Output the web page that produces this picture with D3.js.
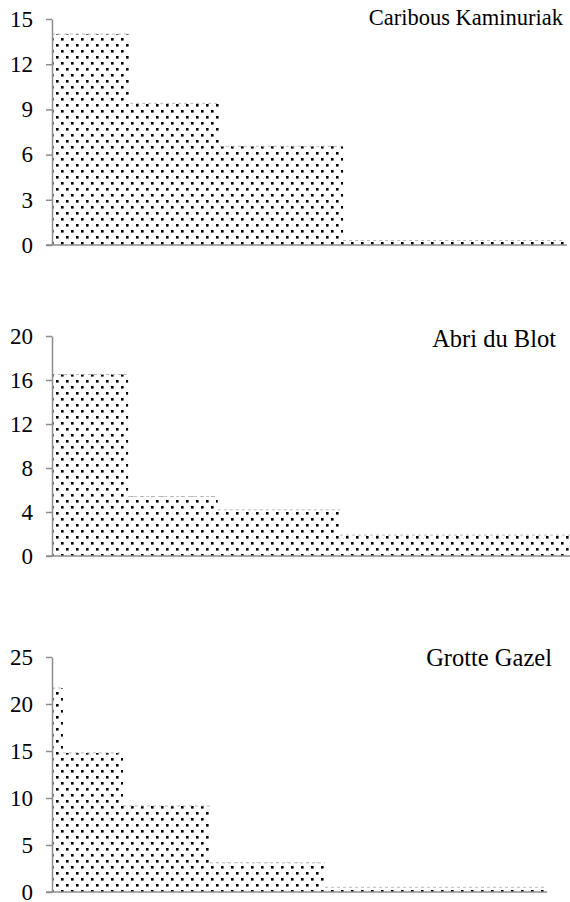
<!DOCTYPE html>
<html>
<head>
<meta charset="utf-8">
<script src="https://cdn.jsdelivr.net/npm/d3@7"></script>
<style>
  body { margin: 0; background: #fff; }
  svg { display: block; }
</style>
</head>
<body>
<svg id="chart" width="570" height="902"></svg>
<script>
// bin edges (x units, 0-100) and step heights
const titles = ["Caribous Kaminuriak", "Abri du Blot", "Grotte Gazel"];
const caribouEdges = [0, 15.1, 32.4, 56.2, 99.0];
const caribouValues = [14.0, 9.4, 6.55, 0.3];
const blotEdges = [0, 14.7, 32.0, 55.6, 100];
const blotValues = [16.5, 5.4, 4.2, 1.9];
const gazelEdges = [0, 2.1, 13.7, 30.5, 52.7, 95.2];
const gazelValues = [21.7, 14.8, 9.15, 3.1, 0.5];
const caribouTicks = [0, 3, 6, 9, 12, 15];
const blotTicks = [0, 4, 8, 12, 16, 20];
const gazelTicks = [0, 5, 10, 15, 20, 25];

const panels = [
  { title: titles[0], edges: caribouEdges, values: caribouValues, ticks: caribouTicks,
    top: 19, bottom: 245, titleX: 563, titleY: 25, titleSize: 22.5 },
  { title: titles[1], edges: blotEdges, values: blotValues, ticks: blotTicks,
    top: 336, bottom: 556, titleX: 556, titleY: 347, titleSize: 24.5 },
  { title: titles[2], edges: gazelEdges, values: gazelValues, ticks: gazelTicks,
    top: 657, bottom: 892, titleX: 552, titleY: 666, titleSize: 24.5 }
];

const svg = d3.select("#chart");
const axisColor = "#8c8c8c";
const font = "'Liberation Serif', 'Times New Roman', serif";

const defs = svg.append("defs");
const pat = defs.append("pattern")
  .attr("id", "dots")
  .attr("patternUnits", "userSpaceOnUse")
  .attr("width", 10)
  .attr("height", 12);
pat.append("rect").attr("width", 10).attr("height", 12).attr("fill", "#fff");
pat.append("rect").attr("x", 1).attr("y", 2).attr("width", 2.6).attr("height", 2.6).attr("fill", "#000");
pat.append("rect").attr("x", 6).attr("y", 8).attr("width", 2.6).attr("height", 2.6).attr("fill", "#000");

const x = d3.scaleLinear().domain([0, 100]).range([52, 570]);

panels.forEach(p => {
  const y = d3.scaleLinear()
    .domain([0, d3.max(p.ticks)])
    .range([p.bottom, p.top]);

  const pts = p.edges.map((e, i) => ({ x: e, v: p.values[Math.min(i, p.values.length - 1)] }));

  const area = d3.area()
    .curve(d3.curveStepAfter)
    .x(d => x(d.x))
    .y0(y(0))
    .y1(d => y(d.v));

  const g = svg.append("g");

  g.append("path")
    .datum(pts)
    .attr("d", area)
    .attr("fill", "url(#dots)");

  // faint dashed top edge of every step
  g.selectAll("line.top")
    .data(p.values)
    .join("line")
    .attr("class", "top")
    .attr("x1", (d, i) => x(p.edges[i]))
    .attr("x2", (d, i) => x(p.edges[i + 1]))
    .attr("y1", d => y(d))
    .attr("y2", d => y(d))
    .attr("stroke", "#aaa")
    .attr("stroke-width", 0.8)
    .attr("stroke-dasharray", "3,3");

  const yAxis = g.append("g")
    .attr("transform", `translate(${x(0)},0)`)
    .call(d3.axisLeft(y).tickValues(p.ticks).tickSize(6).tickSizeOuter(0).tickPadding(13));

  yAxis.attr("font-family", null).attr("font-size", null);
  yAxis.select(".domain").attr("stroke", axisColor).attr("stroke-width", 1.5);
  yAxis.selectAll(".tick line").attr("stroke", axisColor).attr("stroke-width", 1.5);
  yAxis.selectAll(".tick text")
    .attr("fill", "#000")
    .style("font-family", font)
    .style("font-size", "23px");

  // baseline
  g.append("line")
    .attr("x1", x(0) - 6)
    .attr("x2", x(d3.max(p.edges)) + 2)
    .attr("y1", y(0))
    .attr("y2", y(0))
    .attr("stroke", axisColor)
    .attr("stroke-width", 1.5);

  g.append("text")
    .attr("x", p.titleX)
    .attr("y", p.titleY)
    .attr("text-anchor", "end")
    .style("font-family", font)
    .style("font-size", p.titleSize + "px")
    .text(p.title);
});
</script>
</body>
</html>
